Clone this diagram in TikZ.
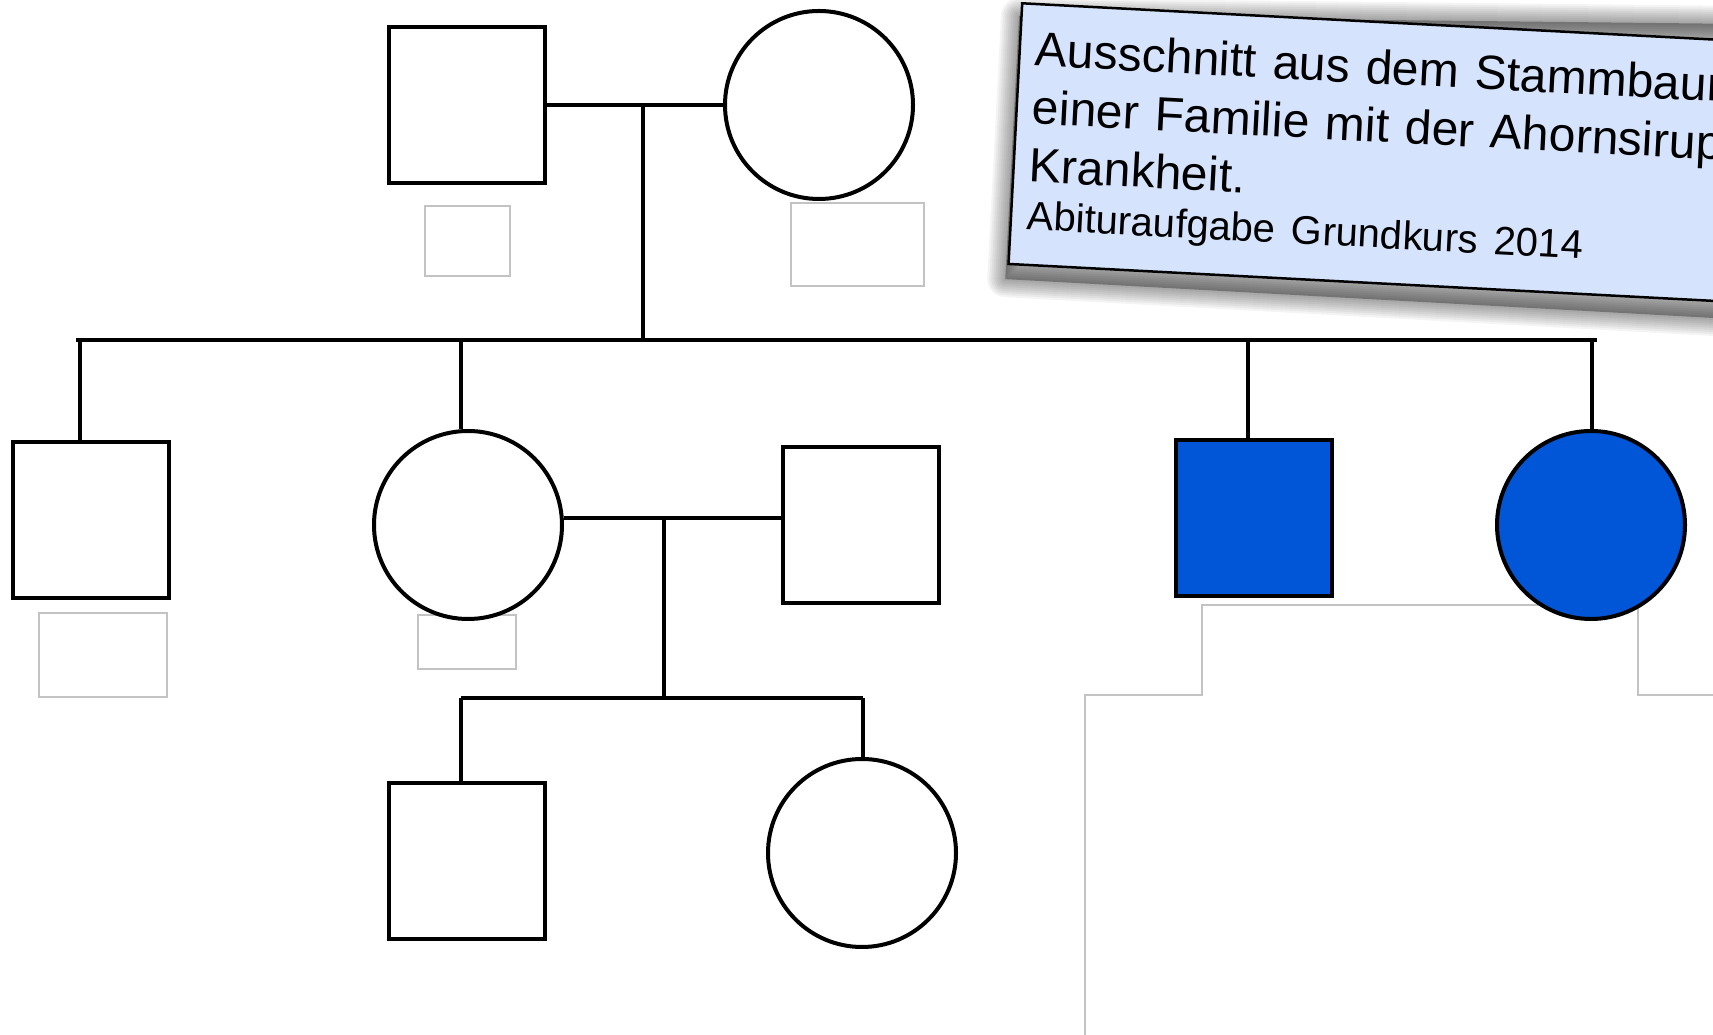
\documentclass[tikz,border=0pt]{standalone}
\usepackage{fontspec}
\setmainfont{Liberation Sans}
\usetikzlibrary{backgrounds}
\definecolor{sickblue}{RGB}{0, 86, 214}
\definecolor{notefill}{RGB}{213, 227, 252}
\definecolor{fieldgray}{RGB}{195, 195, 195}

\begin{document}
\begin{tikzpicture}[
        x=1pt, y=1pt,
        node distance=352pt,
        male/.style={draw=black, line width=4pt, fill=white, minimum size=156pt, inner sep=0pt},
        female/.style={circle, draw=black, line width=4pt, fill=white, minimum size=188pt, inner sep=0pt},
        sick/.style={fill=sickblue},
        field/.style={draw=fieldgray, line width=1.3pt, inner sep=0pt},
        line/.style={line width=3.6pt},
        note/.style={draw=black, line width=2.5pt, fill=notefill, text width=740pt, inner xsep=16pt,
            minimum height=261pt, align=left, font=\fontsize{48}{58}\selectfont}
    ]
        \useasboundingbox (0,0) rectangle (1713,1035);
        \clip (0,0) rectangle (1713,1035);

        % gray outline behind the right side
        \draw[fieldgray, line width=1.3pt] (1085,0) -- (1085,340) -- (1202,340) -- (1202,430)
            -- (1638,430) -- (1638,340) -- (1713,340);

        % empty fields
        \node[field, minimum width=85pt, minimum height=70pt] (gfid) at (467.5,794) {};
        \node[field, minimum width=133pt, minimum height=83pt] (gmid) at (857.5,790.5) {};
        \node[field, minimum width=128pt, minimum height=84pt] (son1id) at (103,380) {};
        \node[field, minimum width=98pt, minimum height=54pt] (dau1id) at (467,393) {};

        % persons
        \node[male] (gf) at (467,930) {};
        \node[female, right of=gf] (gm) {};
        \node[male] (son1) at (91,515) {};
        \node[female] (dau1) at (468,510) {};
        \node[male, right of=dau1, xshift=41pt] (inlaw) {};
        \node[male, sick] (son2) at (1254,517) {};
        \node[female, sick] (dau2) at (1591,510) {};
        \node[male] (gson) at (467,174) {};
        \node[female, right of=gson, xshift=43pt, yshift=8pt] (gdau) {};

        % first generation
        \coordinate (pair1) at (643,930);
        \coordinate (sibL) at (76,695);
        \coordinate (sibR) at (1597,695);
        \draw[line] (gf) -- (gm);
        \draw[line] (pair1) -- (pair1 |- sibL);
        \draw[line] (sibL) -- (sibR);
        \foreach \x/\who in {80/son1, 461/dau1, 1248/son2, 1592/dau2} {
            \coordinate (d\who) at (\x,695);
            \draw[line] (d\who) -- (d\who |- \who.north);
        }

        % second generation
        \coordinate (pair2) at (664,517);
        \coordinate (sib2L) at (461,337);
        \coordinate (sib2R) at (863,337);
        \draw[line] ([yshift=7pt]dau1.east) -- ([yshift=7pt]inlaw.west);
        \draw[line] (pair2) -- (pair2 |- sib2L);
        \draw[line] (sib2L) -- (sib2R);
        \draw[line] (sib2L) -- (sib2L |- gson.north);
        \draw[line] (sib2R) -- (sib2R |- gdau.north);

        % caption
        \node[note, rotate=-3, anchor=north west] (note) at (1021,1033) {%
            Ausschnitt aus dem Stammbaum\\
            einer Familie mit der Ahornsirup-\\
            Krankheit.\\[-10pt]
            {\fontsize{40}{48}\selectfont Abituraufgabe Grundkurs 2014}};

        \begin{scope}[on background layer]
            \fill[white] (0,0) rectangle (1713,1035);
            \fill[black, opacity=0.3]
                ([shift={(-2pt,-14pt)}]note.south west) -- ([shift={(0pt,-16pt)}]note.south east)
                -- ([shift={(0pt,18pt)}]note.north east) -- ([shift={(-2pt,-14pt)}]note.north west) -- cycle;
            \foreach \w in {4,8,...,36} {
                \draw[black, opacity=0.045, line width=\w pt, line join=round]
                    ([shift={(-2pt,-14pt)}]note.south west) -- ([shift={(0pt,-16pt)}]note.south east)
                    -- ([shift={(0pt,18pt)}]note.north east) -- ([shift={(-2pt,-14pt)}]note.north west) -- cycle;
            }
        \end{scope}
    \end{tikzpicture}
\end{document}
